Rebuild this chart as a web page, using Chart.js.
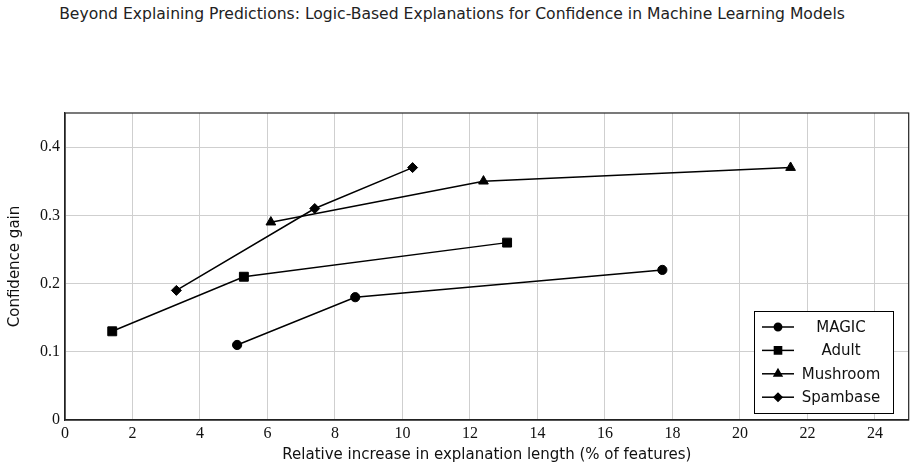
<!DOCTYPE html>
<html>
<head>
<meta charset="utf-8">
<script src="https://cdn.jsdelivr.net/npm/chart.js@4/dist/chart.umd.min.js"></script>
<style>
  html, body { margin: 0; padding: 0; background: white; }
  #wrap { position: relative; width: 916px; height: 476px; }
  #header { position: absolute; left: -6px; width: 916px; text-align: center; top: 5px; font-family: "DejaVu Sans", sans-serif; font-size: 15.6px; color: #222; white-space: nowrap; }
  canvas { position: absolute; left: 0; top: 0; }
</style>
</head>
<body>
<div id="wrap">
  <div id="header">Beyond Explaining Predictions: Logic-Based Explanations for Confidence in Machine Learning Models</div>
  <canvas id="chart" width="916" height="476"></canvas>
</div>
<script>
// data
const seriesNames = ['MAGIC', 'Adult', 'Mushroom', 'Spambase'];
const markers = ['circle', 'rect', 'triangle', 'rectRot'];
const magicX = [5.1, 8.6, 17.7];
const magicY = [0.11, 0.18, 0.22];
const adultX = [1.4, 5.3, 13.1];
const adultY = [0.13, 0.21, 0.26];
const mushroomX = [6.1, 12.4, 21.5];
const mushroomY = [0.29, 0.35, 0.37];
const spamX = [3.3, 7.4, 10.3];
const spamY = [0.19, 0.31, 0.37];
const xTicks = [0, 2, 4, 6, 8, 10, 12, 14, 16, 18, 20, 22, 24];
const yTicks = [0, 0.1, 0.2, 0.3, 0.4];

const allX = [magicX, adultX, mushroomX, spamX];
const allY = [magicY, adultY, mushroomY, spamY];
const pointSizes = [4.6, 6.3, 5.6, 5];

function makePoints(xs, ys) {
    return xs.map((x, i) => ({ x: x, y: ys[i] }));
}

let datasets = seriesNames.map((name, i) => ({
    label: name,
    data: makePoints(allX[i], allY[i]),
    borderColor: 'black',
    backgroundColor: 'black',
    borderWidth: 1.5,
    pointStyle: markers[i],
    pointRadius: pointSizes[i],
    pointBorderWidth: 1,
    showLine: true,
    tension: 0
}));

const serif = '"Liberation Serif", "DejaVu Serif", serif';
const sans = '"DejaVu Sans", "Liberation Sans", sans-serif';

// box around plot + legend inside bottom-right
const framePlugin = {
    id: 'frame',
    afterDraw(chart) {
        const ctx = chart.ctx;
        const a = chart.chartArea;
        ctx.save();
        ctx.strokeStyle = '#222';
        ctx.lineWidth = 1.2;
        ctx.strokeRect(a.left, a.top, a.right - a.left, a.bottom - a.top);

        // legend
        const bx = 754, by = 311, bw = 139, bh = 102;
        ctx.fillStyle = 'white';
        ctx.fillRect(bx, by, bw, bh);
        ctx.strokeStyle = 'black';
        ctx.lineWidth = 1;
        ctx.strokeRect(bx + 0.5, by + 0.5, bw, bh);
        ctx.font = '15px ' + sans;
        ctx.textAlign = 'center';
        ctx.textBaseline = 'middle';
        chart.data.datasets.forEach((ds, i) => {
            const cy = by + 16 + i * 23.4;
            ctx.strokeStyle = 'black';
            ctx.lineWidth = 1.5;
            ctx.beginPath();
            ctx.moveTo(762, cy);
            ctx.lineTo(794, cy);
            ctx.stroke();
            ctx.fillStyle = 'black';
            Chart.helpers.drawPoint(ctx, {
                pointStyle: ds.pointStyle,
                radius: ds.pointRadius * 0.8,
                borderWidth: 1,
                rotation: 0
            }, 778, cy);
            ctx.fillStyle = '#111';
            ctx.fillText(ds.label, 841, cy + 1);
        });
        ctx.restore();
    }
};

const config = {
    type: 'scatter',
    data: { datasets: datasets },
    options: {
        responsive: false,
        animation: false,
        layout: { padding: { top: 113, right: 7, left: 0, bottom: 0 } },
        plugins: {
            legend: { display: false },
            tooltip: { enabled: false }
        },
        scales: {
            x: {
                type: 'linear',
                min: 0,
                max: 25,
                afterBuildTicks: (scale) => { scale.ticks = xTicks.map(v => ({ value: v })); },
                afterFit: (scale) => { scale.height = 56; },
                grid: { color: '#cfcfcf', lineWidth: 1, drawTicks: false },
                border: { display: true, color: '#222', width: 1.2 },
                ticks: { color: '#111', font: { family: serif, size: 16 }, padding: 4 },
                title: {
                    display: true,
                    text: 'Relative increase in explanation length (% of features)',
                    color: '#111',
                    font: { family: sans, size: 15 },
                    padding: { top: 0, bottom: 12 }
                }
            },
            y: {
                type: 'linear',
                min: 0,
                max: 0.45,
                afterBuildTicks: (scale) => { scale.ticks = yTicks.map(v => ({ value: v })); },
                afterFit: (scale) => { scale.width = 65; },
                grid: { color: '#cfcfcf', lineWidth: 1, drawTicks: false },
                border: { display: true, color: '#222', width: 1.2 },
                ticks: {
                    color: '#111',
                    font: { family: serif, size: 16 },
                    padding: 5,
                    callback: (v) => v === 0 ? '0' : v.toFixed(1)
                },
                title: {
                    display: true,
                    text: 'Confidence gain',
                    color: '#111',
                    font: { family: sans, size: 15 },
                    padding: { top: 6, bottom: 0 }
                }
            }
        }
    },
    plugins: [framePlugin]
};

var chart = new Chart(document.getElementById('chart'), config);
</script>
</body>
</html>
